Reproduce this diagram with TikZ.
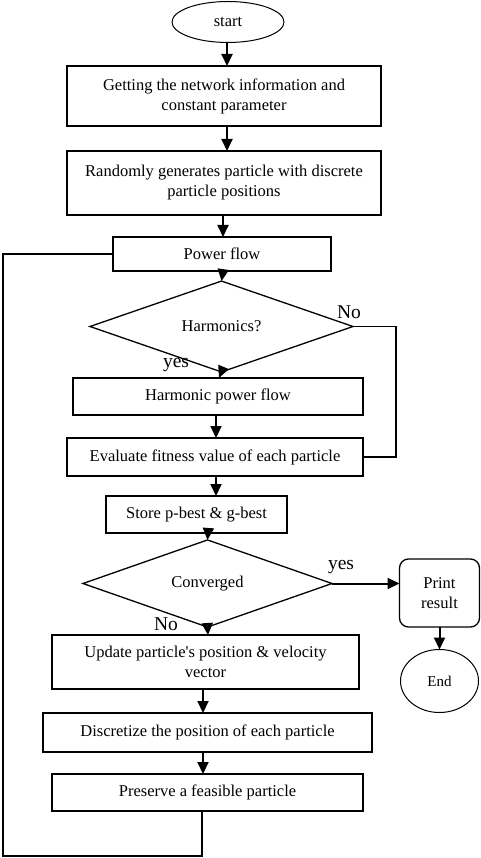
\documentclass[tikz,border=0pt]{standalone}
\usepackage{fontspec}
\setmainfont{Liberation Serif}
\usetikzlibrary{shapes.geometric,arrows.meta}
\begin{document}
\begin{tikzpicture}[x=1pt,y=-1pt,
  every node/.style={inner sep=0pt,outer sep=0pt},
  txt/.style={font=\fontsize{16.5}{20}\selectfont,align=center},
  lbl/.style={font=\fontsize{19.5}{22}\selectfont},
  pbox/.style={txt,draw,line width=1.7pt,rectangle},
  oval/.style={txt,draw,line width=1pt,ellipse},
  dia/.style={txt,draw,line width=1.3pt,diamond},
  arr/.style={line width=2pt,-{Triangle[width=11pt,length=12pt]}},
  ln/.style={line width=1.7pt}]
\useasboundingbox (0,0) rectangle (481,858);
\node[oval,minimum width=112,minimum height=41] (start) at (228,22) {start};
\node[pbox,minimum width=314,minimum height=60] (getinfo) at (224,96) {Getting the network information and\\constant parameter};
\node[pbox,minimum width=314,minimum height=64] (randgen) at (224,183) {Randomly generates particle with discrete\\particle positions};
\node[pbox,minimum width=218,minimum height=34] (pflow) at (222,254) {Power flow};
\node[dia,minimum width=263,minimum height=61] (harm) at (221.5,326.5) {Harmonics?};
\node[pbox,minimum width=290,minimum height=37] (hpf) at (218,396.5) {Harmonic power flow};
\node[pbox,line width=2.5pt,minimum width=296,minimum height=38] (eval) at (215,457) {Evaluate fitness value of each particle};
\node[pbox,minimum width=181,minimum height=37] (store) at (196.5,514.5) {Store p-best \& g-best};
\node[dia,minimum width=249,minimum height=57] (conv) at (207.5,583.5) {Converged};
\node[txt,draw,line width=1.3pt,rounded corners=9pt,minimum width=80,minimum height=68] (print) at (439.5,593) {Print\\result};
\node[oval,font=\fontsize{15}{18}\selectfont,minimum width=78,minimum height=63] (end) at (439.5,681) {End};
\node[pbox,minimum width=307,minimum height=54] (update) at (205.5,662) {Update particle\textquotesingle s position \& velocity\\vector};
\node[pbox,minimum width=329,minimum height=39] (disc) at (207.5,732.5) {Discretize the position of each particle};
\node[pbox,minimum width=311,minimum height=37] (pres) at (207.5,792.5) {Preserve a feasible particle};
\node[lbl] (no1) at (349,312) {No};
\node[lbl] (yes1) at (176,365) {yes};
\node[lbl] (yes2) at (341,567) {yes};
\node[lbl] (no2) at (166,624) {No};
\coordinate (xa) at (227,0);
\coordinate (xb) at (223,0);
\coordinate (xc) at (219,0);
\coordinate (xd) at (216,0);
\coordinate (xe) at (208,0);
\coordinate (xf) at (203,0);
\coordinate (xg) at (202,0);
\coordinate (bl) at (3,856);
\coordinate (rt) at (396,0);
\draw[arr] (xa |- start.south) -- (xa |- getinfo.north);
\draw[arr] (xa |- getinfo.south) -- (xa |- randgen.north);
\draw[arr] (xb |- randgen.south) -- (xb |- pflow.north);
\draw[arr] (xb |- pflow.south) -- (harm.north);
\draw[arr] (harm.south) -- (xc |- hpf.north);
\draw[arr] (xd |- hpf.south) -- (xd |- eval.north);
\draw[arr] (xd |- eval.south) -- (xd |- store.north);
\draw[arr] (xe |- store.south) -- (conv.north);
\draw[arr] (conv.south) -- (xe |- update.north);
\draw[arr] (xf |- update.south) -- (xf |- disc.north);
\draw[arr] (xf |- disc.south) -- (xf |- pres.north);
\draw[arr] (conv.east) -- (print.west |- conv.east);
\draw[arr] (print.south -| end.north) -- (end.north);
\draw[ln] (harm.east) -- (rt |- harm.east) -- (rt |- eval.east) -- (eval.east);
\draw[ln] (xg |- pres.south) -- (xg |- bl) -- (bl) -- (bl |- pflow.west) -- (pflow.west);
\end{tikzpicture}
\end{document}
